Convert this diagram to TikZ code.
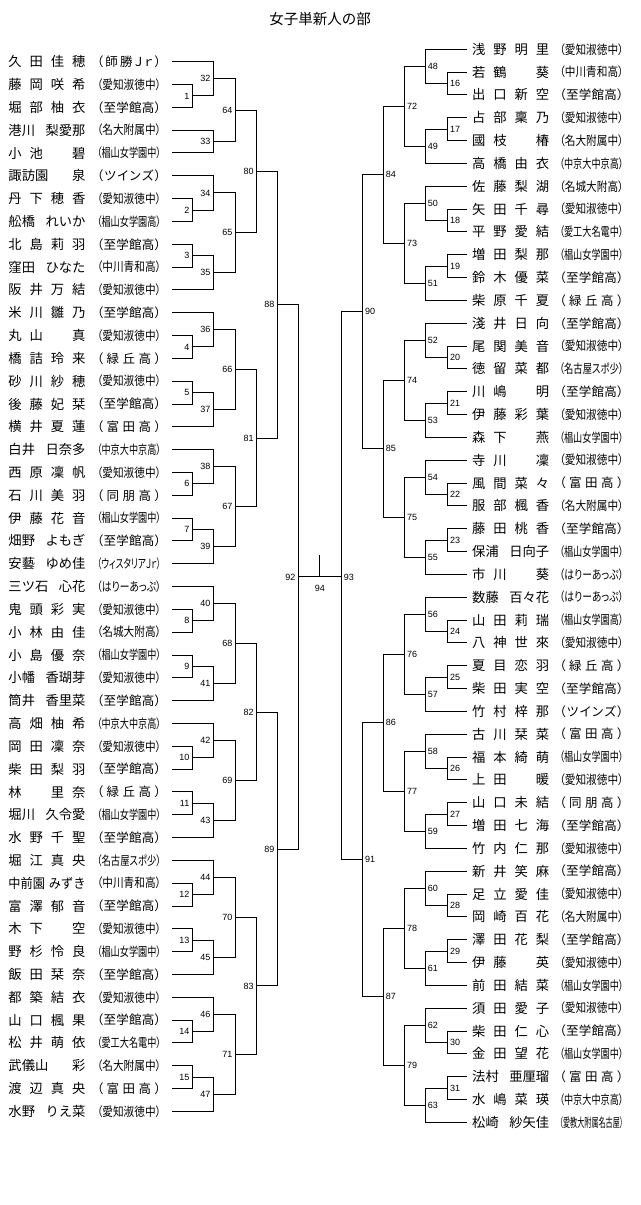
\documentclass[tikz,border=0pt]{standalone}
\usepackage{fontspec, graphicx}
\setmainfont{Noto Sans CJK JP}
\newfontfamily\clubface[RawFeature=+palt]{Noto Sans CJK JP}
\newfontfamily\numface{Liberation Sans}
\usetikzlibrary{calc}

\newlength\nameW \setlength\nameW{77pt}
\newlength\clubW \setlength\clubW{64pt}
\newsavebox\fitbox
% spread the letters of a word over its box
\def\spr#1{\sprA#1\relax}
\def\sprA#1{#1\sprB}
\def\sprB#1{\ifx\relax#1\else\hfil#1\expandafter\sprB\fi}
\newcommand\nm[1]{\makebox[\nameW][s]{\spr{#1}}}
\newcommand\nn[2]{\sbox\fitbox{#1\hspace{4pt}#2}%
    \ifdim\wd\fitbox>\nameW\resizebox{\nameW}{\height}{\usebox\fitbox}%
    \else\makebox[\nameW][s]{#1\hfil#2}\fi}
\newcommand\club[1]{\edef\cltmp{（#1）}\sbox\fitbox{\cltmp}%
    \ifdim\wd\fitbox>\clubW\resizebox{\clubW}{\height}{\usebox\fitbox}%
    \else\makebox[\clubW][s]{\expandafter\spr\expandafter{\cltmp}}\fi}
% one match: style, number, column, the two entries
\newcommand\bout[5][numL]{%
    \coordinate (mid) at ($(#4)!.5!(#5)$);
    \coordinate (m#2) at (mid -| #3);
    \draw (#4) -| (m#2) |- (#5);
    \node[#1] (t#2) at (m#2) {#2};}

\tikzset{
    pname/.style={anchor=west, inner sep=0pt, font=\fontsize{13.3}{14}\selectfont},
    pclub/.style={anchor=west, inner sep=0pt, font=\fontsize{12.5}{13}\selectfont\clubface},
    numL/.style={anchor=east, inner sep=1pt, xshift=-1.5pt, font=\numface\fontsize{9}{9}\selectfont},
    numR/.style={anchor=west, inner sep=1pt, xshift=1pt, font=\numface\fontsize{9}{9}\selectfont},
    numC/.style={inner sep=0pt, font=\numface\fontsize{9}{9}\selectfont},
    headline/.style={font=\fontsize{14.5}{15}\selectfont},
}

\begin{document}
\begin{tikzpicture}[x=1pt, y=-1pt, line width=1pt]
    \useasboundingbox (0,0) rectangle (640,1205);
    \node[headline] (head) at (320,18.8) {女子単新人の部};
    % columns of the two halves
    \foreach \n/\x in {1/192.3,2/213.3,3/235.5,4/256.7,5/277.3,6/298.3}
        \coordinate (cL\n) at (\x,0);
    \foreach \n/\x in {1/447.7,2/425.3,3/404.7,4/383.3,5/362.7,6/341.3}
        \coordinate (cR\n) at (\x,0);

    % left half
    \foreach \nam/\clb [count=\i] in {
        \nm{久田佳穂}/師勝Ｊｒ, \nm{藤岡咲希}/愛知淑徳中, \nm{堀部柚衣}/至学館高,
        \nn{港川}{梨愛那}/名大附属中, \nm{小池　碧}/椙山女学園中, \nn{諏訪園}{泉}/ツインズ,
        \nm{丹下穂香}/愛知淑徳中, \nn{舩橋}{れいか}/椙山女学園高, \nm{北島莉羽}/至学館高,
        \nn{窪田}{ひなた}/中川青和高, \nm{阪井万結}/愛知淑徳中, \nm{米川雛乃}/至学館高,
        \nm{丸山　真}/愛知淑徳中, \nm{橋詰玲来}/緑丘高, \nm{砂川紗穂}/愛知淑徳中,
        \nm{後藤妃栞}/至学館高, \nm{横井夏蓮}/富田高, \nn{白井}{日奈多}/中京大中京高,
        \nm{西原凜帆}/愛知淑徳中, \nm{石川美羽}/同朋高, \nm{伊藤花音}/椙山女学園中,
        \nn{畑野}{よもぎ}/至学館高, \nn{安藝}{ゆめ佳}/ウィスタリアＪｒ, \nn{三ツ石}{心花}/はりーあっぷ,
        \nm{鬼頭彩実}/愛知淑徳中, \nm{小林由佳}/名城大附高, \nm{小島優奈}/椙山女学園中,
        \nn{小幡}{香瑚芽}/愛知淑徳中, \nn{筒井}{香里菜}/至学館高, \nm{高畑柚希}/中京大中京高,
        \nm{岡田凜奈}/愛知淑徳中, \nm{柴田梨羽}/至学館高, \nm{林　里奈}/緑丘高,
        \nn{堀川}{久令愛}/椙山女学園中, \nm{水野千聖}/至学館高, \nm{堀江真央}/名古屋スポ少,
        \nn{中前園}{みずき}/中川青和高, \nm{富澤郁音}/至学館高, \nm{木下　空}/愛知淑徳中,
        \nm{野杉怜良}/椙山女学園中, \nm{飯田栞奈}/至学館高, \nm{都築結衣}/愛知淑徳中,
        \nm{山口楓果}/至学館高, \nm{松井萌依}/愛工大名電中, \nn{武儀山}{彩}/名大附属中,
        \nm{渡辺真央}/富田高, \nn{水野}{りえ菜}/愛知淑徳中}{
        \pgfmathsetmacro\yy{61.7+22.82*(\i-1)}
        \node[pname] (L\i) at (8,\yy) {\nam};
        \node[pclub] (LC\i) at (96.5,\yy) {\club{\clb}};
        \coordinate (l\i) at (172.3,\yy);
    }
    \bout{1}{cL1}{l2}{l3}
    \bout{32}{cL2}{l1}{m1}
    \bout{33}{cL2}{l4}{l5}
    \bout{64}{cL3}{m32}{m33}
    \foreach \k in {1,...,7}{
        \pgfmathtruncatemacro\rA{6*\k}
        \pgfmathtruncatemacro\rB{\rA+1}
        \pgfmathtruncatemacro\rC{\rA+2}
        \pgfmathtruncatemacro\rD{\rA+3}
        \pgfmathtruncatemacro\rE{\rA+4}
        \pgfmathtruncatemacro\rF{\rA+5}
        \pgfmathtruncatemacro\mA{2*\k}
        \pgfmathtruncatemacro\mB{2*\k+1}
        \pgfmathtruncatemacro\mC{32+2*\k}
        \pgfmathtruncatemacro\mD{33+2*\k}
        \pgfmathtruncatemacro\mE{64+\k}
        \bout{\mA}{cL1}{l\rB}{l\rC}
        \bout{\mC}{cL2}{l\rA}{m\mA}
        \bout{\mB}{cL1}{l\rD}{l\rE}
        \bout{\mD}{cL2}{m\mB}{l\rF}
        \bout{\mE}{cL3}{m\mC}{m\mD}
    }
    \bout{80}{cL4}{m64}{m65}
    \bout{81}{cL4}{m66}{m67}
    \bout{82}{cL4}{m68}{m69}
    \bout{83}{cL4}{m70}{m71}
    \bout{88}{cL5}{m80}{m81}
    \bout{89}{cL5}{m82}{m83}
    \bout{92}{cL6}{m88}{m89}

    % right half
    \foreach \nam/\clb [count=\i] in {
        \nm{浅野明里}/愛知淑徳中, \nm{若鶴　葵}/中川青和高, \nm{出口新空}/至学館高,
        \nm{占部稟乃}/愛知淑徳中, \nm{國枝　椿}/名大附属中, \nm{高橋由衣}/中京大中京高,
        \nm{佐藤梨湖}/名城大附高, \nm{矢田千尋}/愛知淑徳中, \nm{平野愛結}/愛工大名電中,
        \nm{増田梨那}/椙山女学園中, \nm{鈴木優菜}/至学館高, \nm{柴原千夏}/緑丘高,
        \nm{淺井日向}/至学館高, \nm{尾関美音}/愛知淑徳中, \nm{徳留菜都}/名古屋スポ少,
        \nm{川嶋　明}/至学館高, \nm{伊藤彩葉}/愛知淑徳中, \nm{森下　燕}/椙山女学園中,
        \nm{寺川　凜}/愛知淑徳中, \nm{風間菜々}/富田高, \nm{服部楓香}/名大附属中,
        \nm{藤田桃香}/至学館高, \nn{保浦}{日向子}/椙山女学園中, \nm{市川　葵}/はりーあっぷ,
        \nn{数藤}{百々花}/はりーあっぷ, \nm{山田莉瑞}/椙山女学園高, \nm{八神世來}/愛知淑徳中,
        \nm{夏目恋羽}/緑丘高, \nm{柴田実空}/至学館高, \nm{竹村梓那}/ツインズ,
        \nm{古川栞菜}/富田高, \nm{福本綺萌}/椙山女学園中, \nm{上田　暖}/愛知淑徳中,
        \nm{山口未結}/同朋高, \nm{増田七海}/至学館高, \nm{竹内仁那}/愛知淑徳中,
        \nm{新井笑麻}/至学館高, \nm{足立愛佳}/愛知淑徳中, \nm{岡崎百花}/名大附属中,
        \nm{澤田花梨}/至学館高, \nm{伊藤　英}/愛知淑徳中, \nm{前田結菜}/椙山女学園中,
        \nm{須田愛子}/愛知淑徳中, \nm{柴田仁心}/至学館高, \nm{金田望花}/椙山女学園中,
        \nn{法村}{亜厘瑠}/富田高, \nm{水嶋菜瑛}/中京大中京高, \nn{松崎}{紗矢佳}/愛教大附属名古屋}{
        \pgfmathsetmacro\yy{49.3+22.83*(\i-1)}
        \node[pname] (R\i) at (471.7,\yy) {\nam};
        \node[pclub] (RC\i) at (559,\yy) {\club{\clb}};
        \coordinate (r\i) at (466.7,\yy);
    }
    \foreach \k in {0,...,7}{
        \pgfmathtruncatemacro\rA{6*\k+1}
        \pgfmathtruncatemacro\rB{\rA+1}
        \pgfmathtruncatemacro\rC{\rA+2}
        \pgfmathtruncatemacro\rD{\rA+3}
        \pgfmathtruncatemacro\rE{\rA+4}
        \pgfmathtruncatemacro\rF{\rA+5}
        \pgfmathtruncatemacro\mA{16+2*\k}
        \pgfmathtruncatemacro\mB{17+2*\k}
        \pgfmathtruncatemacro\mC{48+2*\k}
        \pgfmathtruncatemacro\mD{49+2*\k}
        \pgfmathtruncatemacro\mE{72+\k}
        \bout[numR]{\mA}{cR1}{r\rB}{r\rC}
        \bout[numR]{\mC}{cR2}{r\rA}{m\mA}
        \bout[numR]{\mB}{cR1}{r\rD}{r\rE}
        \bout[numR]{\mD}{cR2}{m\mB}{r\rF}
        \bout[numR]{\mE}{cR3}{m\mC}{m\mD}
    }
    \bout[numR]{84}{cR4}{m72}{m73}
    \bout[numR]{85}{cR4}{m74}{m75}
    \bout[numR]{86}{cR4}{m76}{m77}
    \bout[numR]{87}{cR4}{m78}{m79}
    \bout[numR]{90}{cR5}{m84}{m85}
    \bout[numR]{91}{cR5}{m86}{m87}

    % final
    \coordinate (m93) at (m92 -| cR6);
    \draw (m90) -| (m93) |- (m91);
    \node[numR] (t93) at (m93) {93};
    \draw (m92) -- (m93);
    \coordinate (m94) at ($(m92)!.5!(m93)$);
    \draw (m94) -- ++(0,-22);
    \node[numC] (t94) at ($(m94)+(0,11)$) {94};
\end{tikzpicture}
\end{document}
